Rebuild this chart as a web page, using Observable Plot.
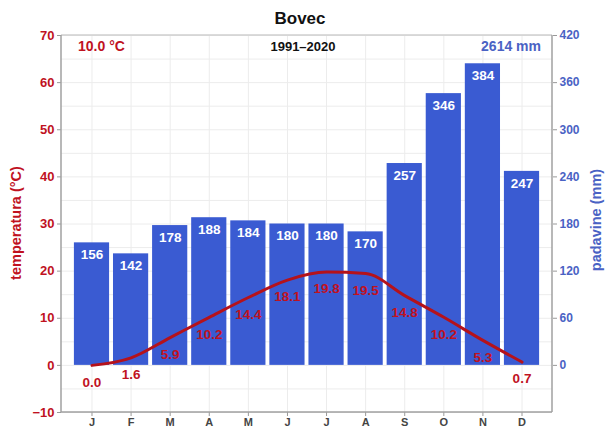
<!DOCTYPE html>
<html><head><meta charset="utf-8">
<script src="https://cdn.jsdelivr.net/npm/d3@7"></script>
<script src="https://cdn.jsdelivr.net/npm/@observablehq/plot@0.6"></script>
<style>
body{margin:0;background:#fff;font-family:"Liberation Sans",Arial,sans-serif;}
#chart{position:relative;width:607px;height:433px;}
</style></head><body><div id="chart"></div>
<script>
const months = ["J1","F","M1","A1","M2","J2","J3","A2","S","O","N","D"];
const monthLabels = ["J","F","M","A","M","J","J","A","S","O","N","D"];
const temperature = [0.0,1.6,5.9,10.2,14.4,18.1,19.8,19.5,14.8,10.2,5.3,0.7];
const precipitation = [156,142,178,188,184,180,180,170,257,346,384,247];
const tempTicks = [-10,0,10,20,30,40,50,60,70];
const precipTicks = [0,60,120,180,240,300,360,420];
const title = "Bovec";
const period = "1991–2020";
const meanTemp = "10.0 °C";
const totalPrecip = "2614 mm";
const ratio = 6; // mm per °C

const data = months.map((m,i)=>({m, label: monthLabels[i], t: temperature[i], p: precipitation[i]}));
const red = "#c0121f", lineRed = "#b5121b", blue = "#3a5bd2", axisBlue = "#4a62c4";
const minorY = d3.range(-10, 70.1, 5);

const chart = Plot.plot({
  width: 607, height: 433,
  marginTop: 35, marginBottom: 21, marginLeft: 61, marginRight: 55,
  style: {fontFamily: "Liberation Sans, Arial, sans-serif", background: "#fff"},
  x: {type: "band", domain: months, paddingInner: 0.1, paddingOuter: 0.33, round: false, axis: null},
  y: {domain: [-10, 70], axis: null},
  marks: [
    Plot.ruleY(minorY, {stroke: "#ececec", strokeWidth: 1}),
    Plot.ruleX(months, {stroke: "#ececec", strokeWidth: 1}),
    Plot.barY(data, {x: "m", y: d => d.p / ratio, fill: blue}),
    Plot.text(data, {x: "m", y: d => d.p / ratio, text: d => String(d.p), dy: 12, fill: "white", fontWeight: "bold", fontSize: 13.5}),
    Plot.line(data, {x: "m", y: "t", stroke: lineRed, strokeWidth: 3, curve: "monotone-x"}),
    Plot.text(data, {x: "m", y: "t", text: d => d.t.toFixed(1), dy: 17, fill: red, fontWeight: "bold", fontSize: 13.5}),
    Plot.axisY(tempTicks, {anchor: "left", tickSize: 4, stroke: "#999", fill: red, fontWeight: "bold", fontSize: 13, tickPadding: 3, label: null}),
    Plot.axisY(precipTicks.map(d => d / ratio), {anchor: "right", tickSize: 4, stroke: "#999", fill: axisBlue, fontWeight: "bold", fontSize: 12, tickPadding: 3, tickFormat: d => String(Math.round(d * ratio)), label: null}),
    Plot.axisX(months, {anchor: "bottom", tickSize: 4, stroke: "#999", fill: "#444", fontWeight: "bold", fontSize: 11, tickPadding: 2, tickFormat: d => monthLabels[months.indexOf(d)], label: null})
  ]
});

const svg = d3.select(chart);
svg.append("line").attr("x1",61).attr("x2",552).attr("y1",35).attr("y2",35).attr("stroke","#cfcfcf").attr("stroke-width",1.5);
svg.append("line").attr("x1",61).attr("x2",61).attr("y1",35).attr("y2",412).attr("stroke","#a0a0a0").attr("stroke-width",1.5);
svg.append("line").attr("x1",61).attr("x2",552).attr("y1",412).attr("y2",412).attr("stroke","#a0a0a0").attr("stroke-width",1.5);
svg.append("line").attr("x1",552).attr("x2",552).attr("y1",35).attr("y2",412).attr("stroke","#a0a0a0").attr("stroke-width",1.5);
const txt = (x,y,s,opt) => svg.append("text").attr("x",x).attr("y",y).attr("text-anchor",opt.anchor||"middle")
  .attr("font-size",opt.size).attr("font-weight","bold").attr("fill",opt.fill).attr("font-family","Liberation Sans, Arial, sans-serif")
  .attr("transform", opt.rot ? `rotate(${opt.rot},${x},${y})` : null).text(s);
txt(300, 24, title, {size: 17, fill: "#111"});
txt(303, 51, period, {size: 13, fill: "#111"});
txt(78, 51, meanTemp, {size: 14, fill: red, anchor: "start"});
txt(541, 51, totalPrecip, {size: 14, fill: axisBlue, anchor: "end"});
txt(21, 223, "temperatura (°C)", {size: 14.5, fill: red, rot: -90});
txt(601, 220, "padavine (mm)", {size: 14.5, fill: axisBlue, rot: -90});
document.getElementById("chart").appendChild(chart);
</script></body></html>
